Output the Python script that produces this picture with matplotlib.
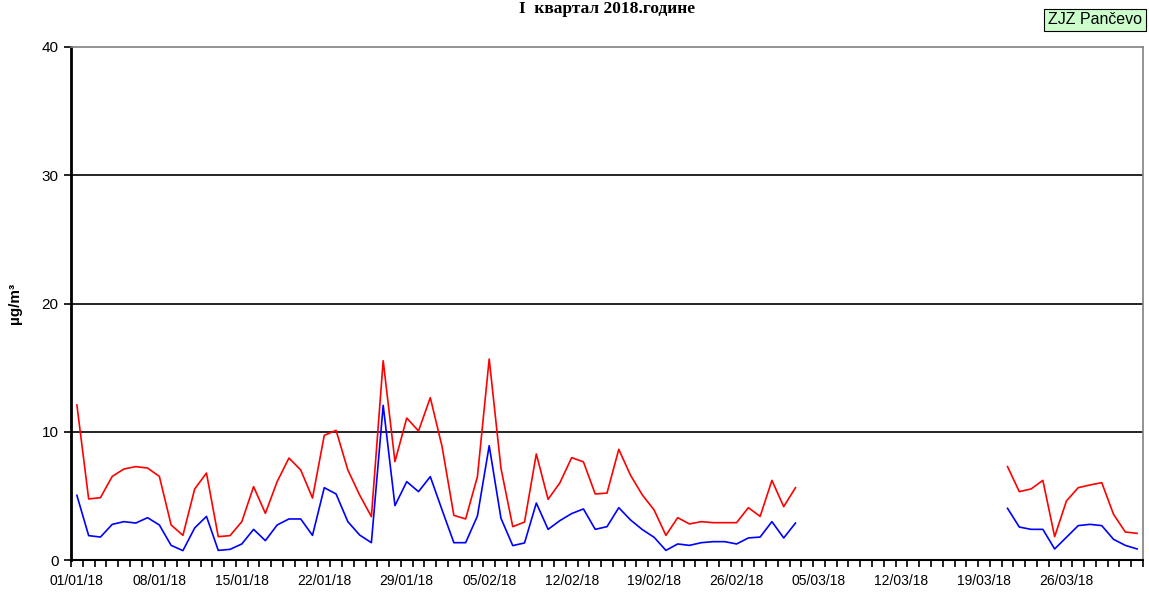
import numpy as np
import pandas as pd
import matplotlib
matplotlib.use("Agg")
import matplotlib.pyplot as plt

# category axis: one point per day, 01/01/18 .. 01/04/18
dates = pd.date_range("2018-01-01", periods=91, freq="D")
date_labels = [d.strftime("%d/%m/%y") for d in dates]

gap = [None] * 17

red_values = [12.09, 4.76, 4.86, 6.52, 7.10, 7.28, 7.17, 6.52, 2.73, 1.92,
              5.54, 6.78, 1.82, 1.90, 2.99, 5.72, 3.64, 6.11, 7.95, 7.02,
              4.83, 9.72, 10.11, 7.02, 5.07, 3.38, 15.54, 7.67, 11.07, 10.06,
              12.66, 8.84, 3.48, 3.20, 6.50, 15.67, 7.15, 2.60, 2.96, 8.27,
              4.73, 6.02, 7.98, 7.65, 5.15, 5.22, 8.63, 6.60, 5.07, 3.90,
              1.92, 3.30, 2.81, 2.99, 2.91, 2.91, 2.91, 4.08, 3.40, 6.21,
              4.16, 5.64] + gap + \
             [7.28, 5.33, 5.54, 6.21, 1.82, 4.60, 5.64, 5.85, 6.03, 3.56,
              2.18, 2.08]

blue_values = [5.04, 1.90, 1.79, 2.78, 2.99, 2.88, 3.30, 2.73, 1.14, 0.73,
               2.50, 3.40, 0.75, 0.83, 1.25, 2.39, 1.51, 2.73, 3.20, 3.20,
               1.92, 5.64, 5.15, 2.99, 1.95, 1.35, 12.06, 4.24, 6.11, 5.33,
               6.50, 3.90, 1.35, 1.35, 3.43, 8.91, 3.25, 1.12, 1.33, 4.44,
               2.39, 3.07, 3.62, 3.98, 2.39, 2.60, 4.08, 3.12, 2.37, 1.77,
               0.75, 1.25, 1.14, 1.35, 1.43, 1.43, 1.25, 1.72, 1.79, 2.99,
               1.72, 2.88] + gap + \
              [4.03, 2.57, 2.39, 2.39, 0.86, 1.77, 2.68, 2.78, 2.68, 1.61,
               1.14, 0.86]

y_ticks = [0, 10, 20, 30, 40]

plt.rcParams['font.family'] = ['Liberation Sans', 'DejaVu Sans']

fig = plt.figure(figsize=(11.49, 5.92), dpi=100)
ax = fig.add_axes([71 / 1149, 32 / 592, 1072 / 1149, 513 / 592])

x = np.arange(len(date_labels))
red = np.array([np.nan if v is None else v for v in red_values])
blue = np.array([np.nan if v is None else v for v in blue_values])

ax.plot(x, red, color="#ff0000", lw=1.2)
ax.plot(x, blue, color="#0000ff", lw=1.2)

ax.set_xlim(-0.5, len(x) - 0.5)
ax.set_ylim(0, 40)

# gridlines at 10/20/30
for v in y_ticks[1:-1]:
    ax.axhline(v, color="black", lw=1.2, zorder=0)

ax.set_yticks(y_ticks)
ax.tick_params(axis="y", direction="out", length=5, width=1.2, labelsize=11, pad=4)

ax.set_xticks(x[::7])
ax.set_xticklabels(date_labels[::7])
ax.set_xticks(np.arange(-0.5, len(x)), minor=True)
ax.tick_params(axis="x", which="major", length=0, labelsize=10, pad=10)
ax.tick_params(axis="x", which="minor", direction="out", length=5, width=1.2)

ax.spines["left"].set_linewidth(2)
ax.spines["bottom"].set_linewidth(1.5)
ax.spines["top"].set_color("#808080")
ax.spines["right"].set_color("#808080")
ax.spines["top"].set_linewidth(1.2)
ax.spines["right"].set_linewidth(1.2)

ax.set_ylabel("µg/m³", fontsize=11, fontweight="bold", labelpad=14)

fig.text(607 / 1149, 1 - 1 / 592, "I  квартал 2018.године", ha="center", va="top",
         fontsize=12.5, fontweight="bold", family=["Liberation Serif", "DejaVu Serif"])

fig.text(1095 / 1149, 1 - 20 / 592, "ZJZ Pančevo", ha="center", va="center", fontsize=11.5,
         bbox=dict(boxstyle="square,pad=0.25", facecolor="#ccffcc", edgecolor="black", lw=0.8))

fig.savefig("out.png", dpi=100)
